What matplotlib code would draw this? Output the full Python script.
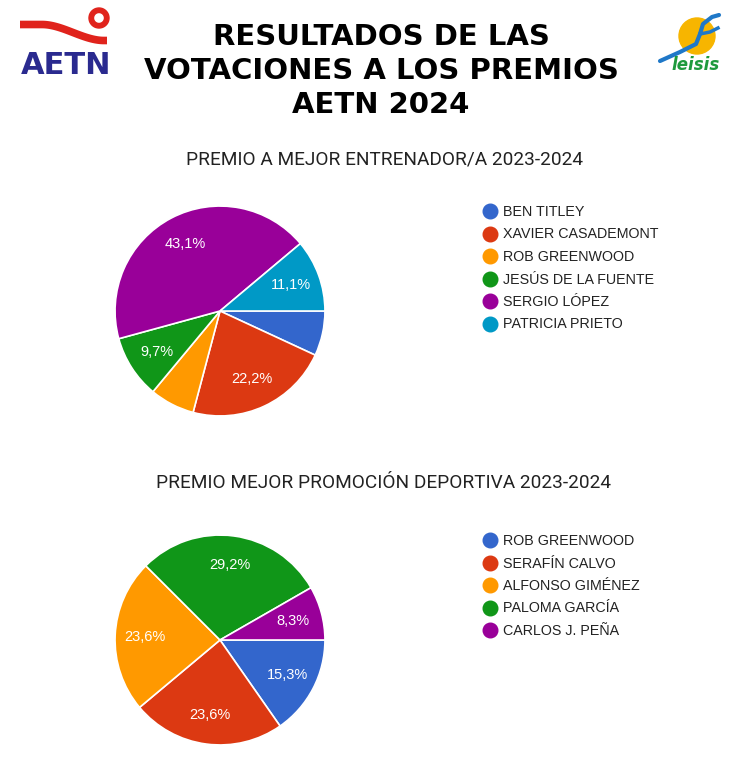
import numpy as np
import matplotlib.pyplot as plt
from matplotlib.lines import Line2D
from matplotlib.patches import Wedge, Circle

# Datos (porcentajes de votos)
coaches = ['BEN TITLEY', 'XAVIER CASADEMONT', 'ROB GREENWOOD',
           'JESÚS DE LA FUENTE', 'SERGIO LÓPEZ', 'PATRICIA PRIETO']
coach_pct = [6.9, 22.2, 6.9, 9.7, 43.1, 11.1]

promo = ['ROB GREENWOOD', 'SERAFÍN CALVO', 'ALFONSO GIMÉNEZ',
         'PALOMA GARCÍA', 'CARLOS J. PEÑA']
promo_pct = [15.3, 23.6, 23.6, 29.2, 8.3]

colors = ['#3366cc', '#dc3912', '#ff9900', '#109618', '#990099', '#0099c6']

W, H = 750, 760
fig = plt.figure(figsize=(W / 100, H / 100), dpi=100)
fig.patch.set_facecolor('white')


def px(x, y):
    # pixel coords (top-left origin) -> figure fraction
    return x / W, 1 - y / H


def fmt(p):
    return (f'{p:.1f}'.replace('.', ',') + '%') if p >= 8 else ''


def draw_pie(cx, cy, r, values, names, legend_y0, title, title_y):
    ax = fig.add_axes([(cx - r) / W, 1 - (cy + r) / H, 2 * r / W, 2 * r / H])
    ax.pie(values, colors=colors[:len(values)], startangle=0, counterclock=False,
           labels=[fmt(v) for v in values], labeldistance=0.72,
           wedgeprops=dict(edgecolor='white', linewidth=1.2),
           textprops=dict(color='white', fontsize=10.5, family='Liberation Sans',
                          ha='center', va='center'))
    ax.set_xlim(-1.01, 1.01)
    ax.set_ylim(-1.01, 1.01)
    ax.set_aspect('equal')
    ax.axis('off')

    fx, fy = px(384, title_y)
    fig.text(fx, fy, title, ha='center', va='center', fontsize=13.7,
             family='Roboto', color='#222222')

    for i, name in enumerate(names):
        y = legend_y0 + i * 22.5
        mx, my = px(490, y)
        fig.add_artist(Line2D([mx], [my], marker='o', markersize=10.5,
                              color=colors[i], linestyle='none',
                              transform=fig.transFigure))
        tx, ty = px(503, y + 5)
        fig.text(tx, ty, name, ha='left', va='baseline', fontsize=10.3,
                 family='Liberation Sans', color='#222222')


# Titulo principal
for line, yb in zip(['RESULTADOS DE LAS', 'VOTACIONES A LOS PREMIOS', 'AETN 2024'],
                    [37, 71, 105]):
    fx, fy = px(381, yb)
    fig.text(fx, fy, line, ha='center', va='center', fontsize=21,
             fontweight='bold', family='DejaVu Sans', color='black')

draw_pie(220, 311, 106, coach_pct, coaches, 211,
         'PREMIO A MEJOR ENTRENADOR/A 2023-2024', 159)
draw_pie(220, 640, 106, promo_pct, promo, 540,
         'PREMIO MEJOR PROMOCIÓN DEPORTIVA 2023-2024', 483)

# Logo AETN (aproximado)
lg = fig.add_axes([0, 1 - 90 / H, 130 / W, 90 / H])
lg.set_xlim(0, 130)
lg.set_ylim(90, 0)
lg.axis('off')
xs = np.linspace(20, 107, 60)
t = np.clip((xs - 42) / 62, 0, 1)
ys = 24.5 + 16 * (3 * t**2 - 2 * t**3)
lg.plot(xs, ys, color='#e0231c', lw=5.5, solid_capstyle='butt')
lg.add_patch(Wedge((99, 18), 10, 0, 360, width=4.5, color='#e0231c'))
lg.text(66, 65, 'AETN', ha='center', va='center', fontsize=22,
        fontweight='heavy', color='#2a2a8f', family='DejaVu Sans')

# Logo leisis (aproximado)
ll = fig.add_axes([640 / W, 1 - 90 / H, 110 / W, 90 / H])
ll.set_xlim(640, 750)
ll.set_ylim(90, 0)
ll.axis('off')
ll.add_patch(Circle((697, 36), 18, color='#f7b500'))
ll.plot([660, 680, 696, 700, 703, 712, 719], [61, 52, 44, 34, 24, 17, 15],
        color='#1f78c8', lw=3, solid_capstyle='round')
ll.plot([700, 710, 718], [34, 32, 28], color='#1f78c8', lw=2.5)
ll.text(696, 65, 'leisis', ha='center', va='center', fontsize=12,
        fontweight='bold', style='italic', color='#1e9a3c', family='DejaVu Sans')

fig.savefig('out.png', dpi=100, facecolor='white')
